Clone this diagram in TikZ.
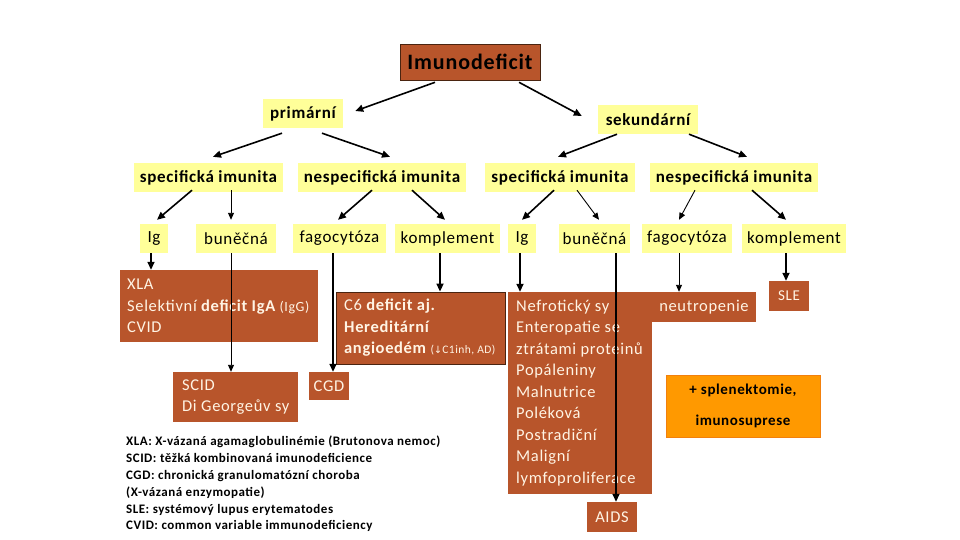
\documentclass[tikz,border=0pt]{standalone}
\usepackage{fontspec}
\setmainfont{Carlito}[LetterSpace=4]
\newfontfamily\dejavu{DejaVu Sans}
\usetikzlibrary{arrows.meta,calc}
\definecolor{brownbox}{HTML}{B8552B}
\definecolor{yel}{HTML}{FFFF99}
\definecolor{orangebox}{HTML}{FF9900}
\definecolor{cream}{HTML}{FFF4E4}
\definecolor{edgebrown}{HTML}{4A2410}
\begin{document}
\begin{tikzpicture}[x=1pt,y=-1pt,
 ybox/.style={fill=yel, inner sep=0pt, text=black},
 bbox/.style={fill=brownbox, inner sep=0pt, text=cream},
 arr/.style={-{Triangle[length=8pt,width=7pt]}, line width=1.6pt},
 tarr/.style={-{Triangle[length=7pt,width=6pt]}, line width=0.9pt},
 lblA/.style={font=\bfseries\fontsize{17}{20}\selectfont},
 lblB/.style={font=\fontsize{17}{20}\selectfont},
 boxtxt/.style={text=cream, inner sep=0pt, anchor=west, align=left, font=\fontsize{16.5}{21.5}\selectfont},
]
\useasboundingbox (0,0) rectangle (960,540);

% top
\node[bbox, draw=edgebrown, line width=0.6pt, text=black, minimum width=140pt, minimum height=36pt,
  font=\bfseries\fontsize{22}{24}\selectfont] (imun) at (470,62) {Imunodeficit};
\node[ybox, lblA, minimum width=80pt, minimum height=29pt] (prim) at (303,113.5) {primární};
\node[ybox, lblA, minimum width=100pt, minimum height=29pt] (sek) at (648,119.5) {sekundární};

% row 2
\node[ybox, lblA, minimum width=149pt, minimum height=29pt] (sA) at (208.5,177.5) {specifická imunita};
\node[ybox, lblA, minimum width=168pt, minimum height=29pt] (nA) at (382,177.5) {nespecifická imunita};
\node[ybox, lblA, minimum width=150pt, minimum height=29pt] (sB) at (560,177.5) {specifická imunita};
\node[ybox, lblA, minimum width=168pt, minimum height=29pt] (nB) at (734,177.5) {nespecifická imunita};

% row 3
\node[ybox, lblB, minimum width=28pt, minimum height=29pt] (IgA) at (154,238.5) {Ig};
\node[ybox, lblB, minimum width=80pt, minimum height=29pt] (bA) at (236,238.5) {buněčná};
\node[ybox, lblB, minimum width=93pt, minimum height=29pt] (fA) at (339.5,238.5) {fagocytóza};
\node[ybox, lblB, minimum width=105pt, minimum height=29pt] (kA) at (447.5,238.5) {komplement};
\node[ybox, lblB, minimum width=28pt, minimum height=29pt] (IgB) at (522,238.5) {Ig};
\node[ybox, lblB, minimum width=71pt, minimum height=29pt] (bB) at (594.5,238.5) {buněčná};
\node[ybox, lblB, minimum width=90pt, minimum height=29pt] (fB) at (687,238.5) {fagocytóza};
\node[ybox, lblB, minimum width=104pt, minimum height=29pt] (kB) at (794,238.5) {komplement};

% arrows top
\draw[arr] ([xshift=-35pt,yshift=-2pt]imun.south) -- ([xshift=12pt,yshift=2.5pt]prim.east);
\draw[arr] ([xshift=49pt,yshift=-2pt]imun.south) -- ([xshift=-16pt,yshift=3.5pt]sek.west);
\draw[arr] ([xshift=-21pt,yshift=-5pt]prim.south) -- ([xshift=4.5pt,yshift=6pt]sA.north);
\draw[arr] ([xshift=19pt,yshift=-5pt]prim.south) -- ([xshift=8pt,yshift=6pt]nA.north);
\draw[arr] ([xshift=-31pt]sek.south) -- ([xshift=-2pt,yshift=6pt]sB.north);
\draw[arr] ([xshift=41pt]sek.south) -- ([xshift=13pt,yshift=6pt]nB.north);

% arrows row2 -> row3
\draw[arr] ([xshift=-16.5pt,yshift=2pt]sA.south) -- ([xshift=3pt,yshift=4pt]IgA.north);
\draw[tarr] ([xshift=22.5pt,yshift=2pt]sA.south) -- ([xshift=-5pt,yshift=4pt]bA.north);
\draw[arr] ([xshift=-10pt,yshift=2pt]nA.south) -- ([xshift=-1.5pt,yshift=4pt]fA.north);
\draw[arr] ([xshift=30pt,yshift=2pt]nA.south) -- ([xshift=-2.5pt,yshift=4pt]kA.north);
\draw[arr] ([xshift=-6pt,yshift=2pt]sB.south) -- ([yshift=4pt]IgB.north);
\draw[tarr] ([xshift=17pt,yshift=2pt]sB.south) -- ([xshift=4.5pt,yshift=4pt]bB.north);
\draw[tarr] ([xshift=-39pt,yshift=2pt]nB.south) -- ([xshift=-8pt,yshift=4pt]fB.north);
\draw[arr] ([xshift=18pt,yshift=2pt]nB.south) -- ([xshift=-8pt,yshift=4pt]kB.north);

% bottom boxes
\node[bbox, minimum width=198pt, minimum height=72pt] (xla) at (219,306) {};
\node[boxtxt] (xlaT) at (127,306) {XLA\\Selektivní {\bfseries deficit IgA} {\fontsize{14}{16}\selectfont(IgG)}\\CVID};
\node[bbox, minimum width=125pt, minimum height=50pt] (scid) at (235.5,397) {};
\node[boxtxt] (scidT) at (182,397) {SCID\\Di Georgeův sy};
\node[bbox, minimum width=40pt, minimum height=28pt, font=\fontsize{16.5}{20}\selectfont] (cgd) at (329,386) {CGD};
\node[bbox, draw=edgebrown, line width=0.8pt, minimum width=169pt, minimum height=72pt] (c6) at (420.5,328) {};
\node[boxtxt] (c6T) at (344,328) {C6 {\bfseries deficit aj.}\\{\bfseries Hereditární}\\{\bfseries angioedém} {\fontsize{11.5}{13}\selectfont(}{\dejavu\fontsize{10}{13}\selectfont↓}{\fontsize{11.5}{13}\selectfont C1inh, AD)}};

\node[bbox, minimum width=144pt, minimum height=202pt] (big) at (580,393) {};
\node[bbox, minimum width=104.5pt, minimum height=30pt, font=\fontsize{16.5}{20}\selectfont] (neu) at (704,307) {neutropenie};
\node[boxtxt] (bigT) at (516,393) {Nefrotický sy\\Enteropatie se\\ztrátami proteinů\\Popáleniny\\Malnutrice\\Poléková\\Postradiční\\Maligní\\lymfoproliferace};
\node[bbox, minimum width=50pt, minimum height=30pt, font=\fontsize{16.5}{20}\selectfont] (aids) at (612,517) {AIDS};
\node[bbox, minimum width=40pt, minimum height=30pt, font=\fontsize{15}{18}\selectfont] (sle) at (789,296) {SLE};
\node[fill=orangebox, draw=orange!80!brown, line width=0.6pt, inner sep=0pt, minimum width=154pt, minimum height=62pt,
  align=center, font=\bfseries\fontsize{15}{31}\selectfont] (spl) at (743,406) {+ splenektomie,\\imunosuprese};

% vertical arrows
\draw[arr] ([xshift=-3pt]IgA.south) -- ([xshift=-3pt]IgA.south |- xla.north);
\draw[tarr] ([xshift=-5pt]bA.south) -- ([xshift=-5pt]bA.south |- scid.north);
\draw[arr] ([xshift=-6.5pt]fA.south) -- ([xshift=-6.5pt]fA.south |- cgd.north);
\draw[arr] ([xshift=-7.5pt]kA.south) -- ([xshift=-7.5pt]kA.south |- c6.north);
\draw[arr] ([xshift=-2pt]IgB.south) -- ([xshift=-2pt]IgB.south |- big.north);
\draw[arr] ([xshift=21.5pt]bB.south) -- ([xshift=21.5pt]bB.south |- aids.north);
\draw[tarr] ([xshift=-8pt]fB.south) -- ([xshift=-8pt]fB.south |- neu.north);
\draw[arr] ([xshift=-8pt]kB.south) -- ([xshift=-8pt]kB.south |- sle.north);

% legend
\node[anchor=north west, inner sep=0pt, align=left, font=\bfseries\fontsize{13}{16.8}\selectfont] (legend) at (126,436)
 {XLA: X-vázaná agamaglobulinémie (Brutonova nemoc)\\
  SCID: těžká kombinovaná imunodeficience\\
  CGD: chronická granulomatózní choroba\\
  (X-vázaná enzymopatie)\\
  SLE: systémový lupus erytematodes\\
  CVID: common variable immunodeficiency};
\end{tikzpicture}
\end{document}
